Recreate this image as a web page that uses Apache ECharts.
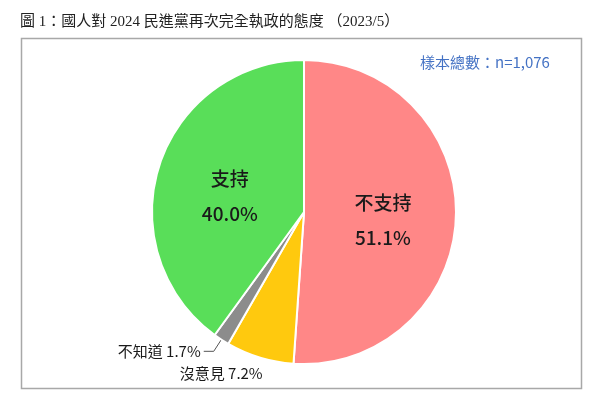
<!DOCTYPE html>
<html>
<head>
<meta charset="utf-8">
<script src="https://cdn.jsdelivr.net/npm/echarts@6/dist/echarts.min.js"></script>
<style>html,body{margin:0;padding:0;background:#fff}#c{width:600px;height:401px}</style>
</head>
<body>
<div id="c"></div>
<script>
const categories = ['不支持', '沒意見', '不知道', '支持'];
const values = [51.1, 7.2, 1.7, 40.0];
const colors = ['#FF8787', '#FFC90E', '#8C8C8C', '#59DE59'];
const titleText = '圖 1：國人對 2024 民進黨再次完全執政的態度 （2023/5）';
const sampleText = '樣本總數：n=1,076';

const font = '"Noto Sans CJK TC", "Noto Sans", sans-serif';
const titleFont = '"Liberation Serif", "Noto Sans CJK TC", serif';
const chart = echarts.init(document.getElementById('c'));

const data = categories.map((name, i) => {
  const d = { name, value: values[i], itemStyle: { color: colors[i] } };
  if (name === '不支持' || name === '支持') {
    d.label = {
      position: 'inside',
      formatter: p => p.name + '\n' + p.value.toFixed(1) + '%',
      fontSize: 19, lineHeight: 35, fontWeight: 500, color: '#1a1a1a', fontFamily: font
    };
  } else if (name === '不知道') {
    d.label = {
      position: 'outside',
      formatter: p => p.name + ' ' + p.value.toFixed(1) + '%',
      fontSize: 15, color: '#1a1a1a', fontFamily: font, distanceToLabelLine: 3
    };
    d.labelLine = { show: true, length: 14, length2: 10, lineStyle: { color: '#555', width: 1 } };
  } else {
    d.label = {
      position: 'outside',
      formatter: p => p.name + ' ' + p.value.toFixed(1) + '%',
      fontSize: 15, color: '#1a1a1a', fontFamily: font
    };
    d.labelLine = { show: false, length: 14, length2: 0 };
  }
  return d;
});

const labelShift = { '支持': [1, 9], '不支持': [0, 6], '沒意見': [12, 2] };

chart.setOption({
  animation: false,
  backgroundColor: '#fff',
  graphic: [
    { type: 'text', left: 20, top: 15, style: { text: titleText, fontSize: 15, fill: '#222', fontFamily: titleFont } },
    { type: 'rect', shape: { x: 21.5, y: 38.5, width: 560, height: 350 }, style: { fill: 'none', stroke: '#a8a8a8', lineWidth: 1.5 }, z: -1 },
    { type: 'text', left: 420, top: 55, style: { text: sampleText, fontSize: 15, fill: '#4472C4', fontFamily: font } }
  ],
  series: [{
    type: 'pie',
    center: [304, 212],
    radius: [0, 152],
    startAngle: 90,
    clockwise: true,
    avoidLabelOverlap: false,
    itemStyle: { borderColor: '#fff', borderWidth: 2 },
    labelLayout: p => {
      const s = labelShift[categories[p.dataIndex]];
      return s ? { dx: s[0], dy: s[1] } : {};
    },
    data
  }]
});
</script>
</body>
</html>
